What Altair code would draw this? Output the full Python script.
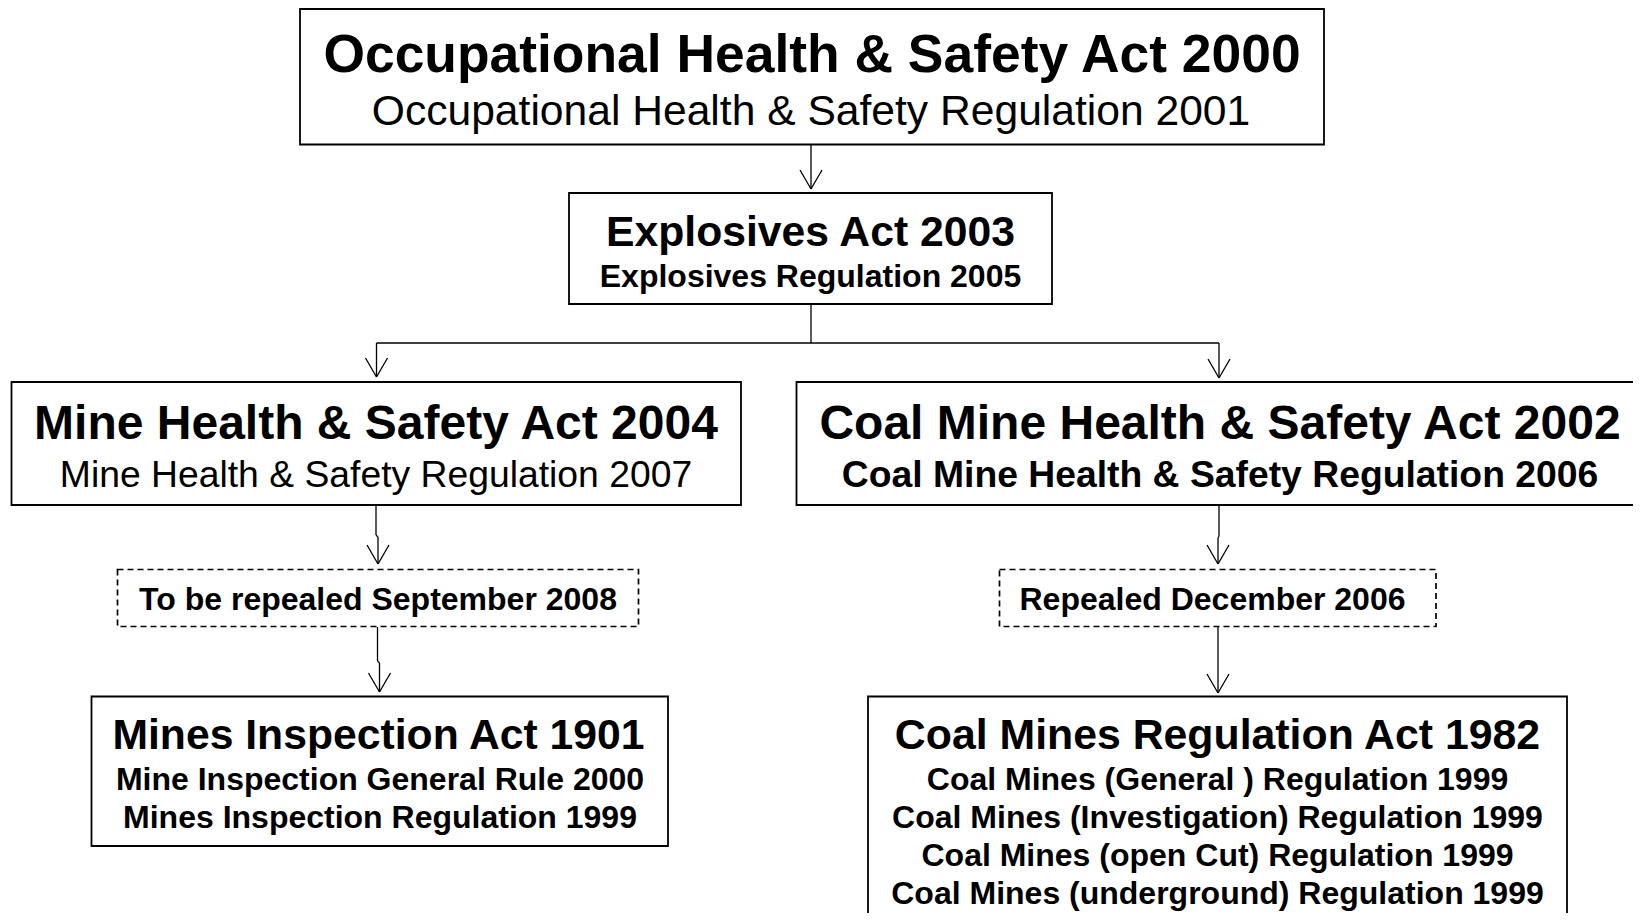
import altair as alt
import pandas as pd

# ---- Boxes (diagram coordinates, pixels from top-left of the figure) ----
box_names = ["OHS Act 2000", "Explosives Act 2003", "Mine HS Act 2004", "Coal Mine HS Act 2002",
             "Repeal Sep 2008", "Repeal Dec 2006", "Mines Inspection Act 1901", "Coal Mines Regulation Act 1982"]
box_left = [300, 569, 11.5, 796.5, 117.5, 999.5, 91.5, 868]
box_right = [1324, 1052, 741, 1660, 638.5, 1436, 668, 1567]
box_top = [9, 193, 382, 382, 569.5, 569.5, 696.5, 696.5]
box_bottom = [144.5, 304, 505, 505, 626.5, 626.5, 846, 950]
box_kind = ["solid", "solid", "solid", "solid", "dashed", "dashed", "solid", "solid"]

# ---- Text lines ----
line_text = [
    "Occupational Health & Safety Act 2000",
    "Occupational Health & Safety Regulation 2001",
    "Explosives Act 2003",
    "Explosives Regulation 2005",
    "Mine Health & Safety Act 2004",
    "Mine Health & Safety Regulation 2007",
    "Coal Mine Health & Safety Act 2002",
    "Coal Mine Health & Safety Regulation 2006",
    "To be repealed September 2008",
    "Repealed December 2006",
    "Mines Inspection Act 1901",
    "Mine Inspection General Rule 2000",
    "Mines Inspection Regulation 1999",
    "Coal Mines Regulation Act 1982",
    "Coal Mines (General ) Regulation 1999",
    "Coal Mines (Investigation) Regulation 1999",
    "Coal Mines (open Cut) Regulation 1999",
    "Coal Mines (underground) Regulation 1999",
]
line_x = [812, 811, 810.5, 810.5, 376, 376, 1220, 1220, 378, 1212.5,
          378.5, 380, 380, 1217.5, 1217.5, 1217.5, 1217.5, 1217.5]
line_y = [72, 125, 245.5, 287, 438.5, 486.5, 438.5, 486.5, 609.5, 609.5,
          748.5, 789.5, 827.5, 748.5, 789.5, 827.5, 865.5, 903.5]
line_size = [53.4, 42.6, 42.7, 32, 48, 37.3, 48, 37.3, 32, 32,
             42.7, 32, 32, 42.8, 32, 32, 32, 32]
line_weight = ["bold", "normal", "bold", "bold", "bold", "normal", "bold", "bold", "bold", "bold",
               "bold", "bold", "bold", "bold", "bold", "bold", "bold", "bold"]

# ---- Connector segments ----
seg_x0 = [811, 811, 376.5, 376.5, 1219, 376, 376, 378, 1219, 1219, 1218, 377.5, 377.5, 379.5, 1218]
seg_y0 = [144.5, 304, 343, 343, 343, 505, 535, 537, 505, 536, 538, 627, 661, 663, 627]
seg_x1 = [811, 811, 1219, 376.5, 1219, 376, 378, 378, 1219, 1218, 1218, 377.5, 379.5, 379.5, 1218]
seg_y1 = [189, 343, 343, 377, 378, 535, 537, 564, 536, 538, 564, 661, 663, 692, 693]

# ---- Arrow tips ----
arrow_x = [811, 376.5, 1219, 378, 1218, 379.5, 1218]
arrow_tip = [189, 377, 378, 564, 564, 692, 693]
HEAD_W, HEAD_H = 11, 19

W, H = 1625, 905
xs = alt.Scale(domain=[8, 8 + W], nice=False, zero=False)
ys = alt.Scale(domain=[8, 8 + H], nice=False, zero=False, reverse=True)

boxes = pd.DataFrame(dict(name=box_names, x0=box_left, x1=box_right, y0=box_top, y1=box_bottom, kind=box_kind))
lines = pd.DataFrame(dict(text=line_text, x=line_x, y=line_y, size=line_size, weight=line_weight))

segs = pd.DataFrame(dict(x0=seg_x0, y0=seg_y0, x1=seg_x1, y1=seg_y1))
heads = []
for ax, at in zip(arrow_x, arrow_tip):
    heads.append(dict(x0=ax - HEAD_W, y0=at - HEAD_H, x1=ax, y1=at))
    heads.append(dict(x0=ax + HEAD_W, y0=at - HEAD_H, x1=ax, y1=at))
segs = pd.concat([segs, pd.DataFrame(heads)], ignore_index=True)

def rect_layer(df, dash):
    kw = dict(fill="white", stroke="black", clip=True)
    if dash:
        kw.update(strokeWidth=1.7, strokeDash=[6, 4])
    else:
        kw.update(strokeWidth=1.8)
    return alt.Chart(df).mark_rect(**kw).encode(
        x=alt.X("x0:Q", scale=xs, axis=None),
        x2="x1:Q",
        y=alt.Y("y0:Q", scale=ys, axis=None),
        y2="y1:Q",
    )

solid = rect_layer(boxes[boxes.kind == "solid"], False)
dashed = rect_layer(boxes[boxes.kind == "dashed"], True)

rules = alt.Chart(segs).mark_rule(color="black", strokeWidth=1.3, clip=True).encode(
    x=alt.X("x0:Q", scale=xs, axis=None),
    x2="x1:Q",
    y=alt.Y("y0:Q", scale=ys, axis=None),
    y2="y1:Q",
)

def text_layer(df, weight):
    return alt.Chart(df).mark_text(
        align="center", baseline="alphabetic", font="Liberation Sans",
        fontWeight=weight, color="black", clip=True
    ).encode(
        x=alt.X("x:Q", scale=xs, axis=None),
        y=alt.Y("y:Q", scale=ys, axis=None),
        text="text:N",
        size=alt.Size("size:Q", scale=None, legend=None),
    )

tb = text_layer(lines[lines.weight == "bold"], "bold")
tn = text_layer(lines[lines.weight == "normal"], "normal")

chart = alt.layer(solid, dashed, rules, tb, tn).properties(
    width=W, height=H, padding=0, autosize=alt.AutoSizeParams(type="none"),
    background="white",
).configure_view(strokeWidth=0)

chart.save("out.html", embed_options={"renderer": "svg", "actions": False})
